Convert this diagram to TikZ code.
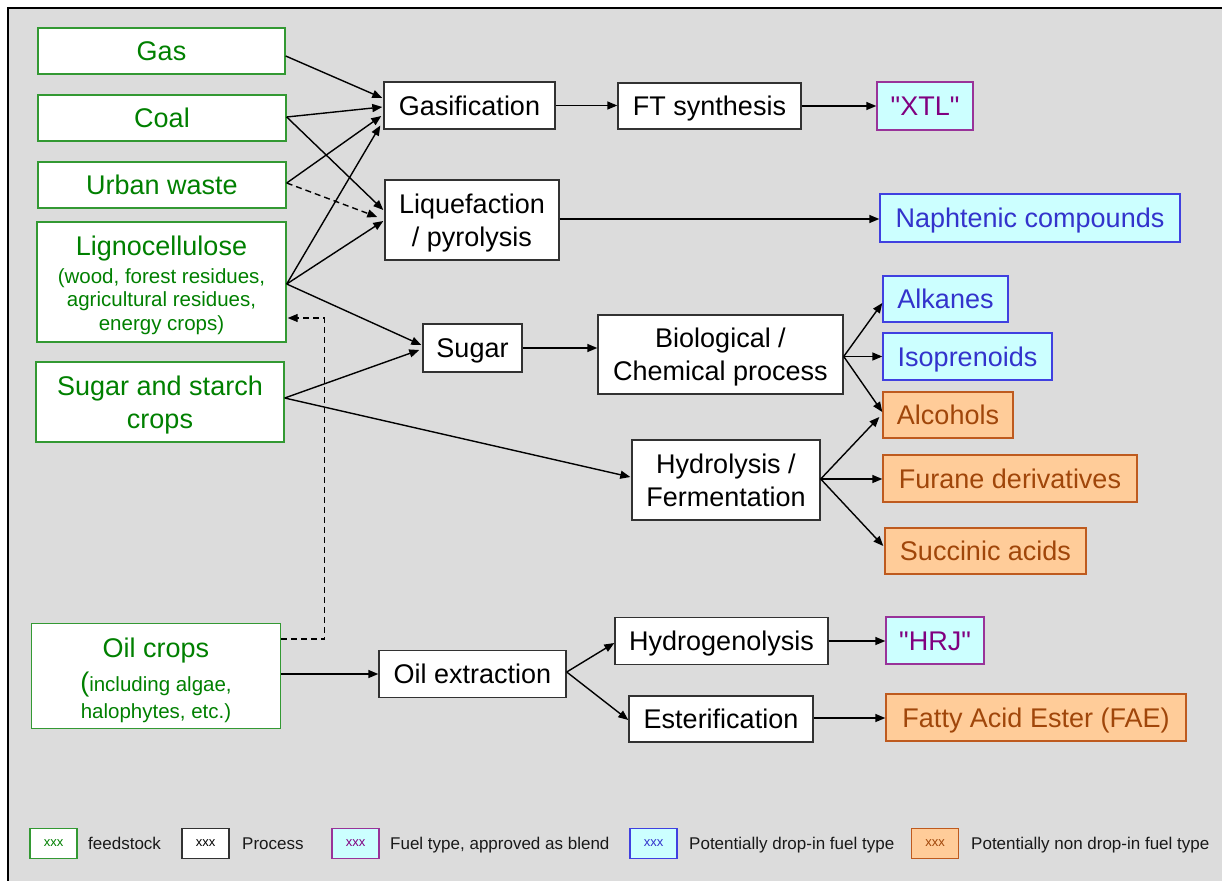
\documentclass[tikz,border=0pt]{standalone}
\usepackage{fontspec}
\setmainfont{Liberation Sans}
\usetikzlibrary{arrows.meta,calc}
\definecolor{bgc}{RGB}{220,220,220}
\definecolor{feedborder}{RGB}{51,153,51}
\definecolor{feedtext}{RGB}{0,128,0}
\definecolor{procborder}{RGB}{50,50,50}
\definecolor{cyanfill}{RGB}{204,255,255}
\definecolor{purpborder}{RGB}{153,51,153}
\definecolor{purptext}{RGB}{128,0,128}
\definecolor{blueborder}{RGB}{64,64,224}
\definecolor{bluetext}{RGB}{51,51,204}
\definecolor{orfill}{RGB}{255,204,153}
\definecolor{orborder}{RGB}{190,90,30}
\definecolor{ortext}{RGB}{160,70,10}
\newcommand\bigfnt{\fontsize{27}{33}\selectfont}
\newcommand\subfnt{\fontsize{20.5}{23.5}\selectfont}
\newcommand\legfnt{\fontsize{17}{20}\selectfont}
\newcommand\xxxfnt{\fontsize{13}{15}\selectfont}
\tikzset{
  boxbase/.style={rectangle, inner sep=0pt, line width=1.4pt, align=center, font=\bigfnt, text height=19.5pt, text depth=0pt},
  twoline/.style={text height=52.5pt},
  feed/.style={boxbase, draw=feedborder, fill=white, text=feedtext},
  proc/.style={boxbase, draw=procborder, fill=white, text=black},
  approved/.style={boxbase, draw=purpborder, fill=cyanfill, text=purptext},
  dropin/.style={boxbase, draw=blueborder, fill=cyanfill, text=bluetext},
  nondrop/.style={boxbase, draw=orborder, fill=orfill, text=ortext},
  feedline/.style={inner sep=0pt, anchor=base, text=feedtext},
  legbox/.style={minimum width=47pt, minimum height=30pt, font=\xxxfnt, text height=6.7pt},
  legtext/.style={anchor=west, inner sep=0pt, font=\legfnt, text=black!90, text height=12.2pt, text depth=0pt},
  arr/.style={line width=1.4pt, -{Triangle[length=10pt,width=8pt]}},
  dasharr/.style={arr, dash pattern=on 6pt off 4pt}
}
\begin{document}
\begin{tikzpicture}[x=1pt,y=-1pt]
\useasboundingbox (0,0) rectangle (1222,881);
\fill[white] (0,0) rectangle (1222,881);
\fill[bgc] (8,8) rectangle (1222,881);
\draw[line width=2pt] (1222,8) -- (8,8) -- (8,881);

% feedstock
\node[feed, minimum width=247pt, minimum height=46pt] (gas) at (161.5,51) {Gas};
\node[feed, minimum width=248pt, minimum height=46pt] (coal) at (162,118) {Coal};
\node[feed, minimum width=248pt, minimum height=46pt] (urban) at (162,185) {Urban waste};
\node[feed, minimum width=249pt, minimum height=120pt] (ligno) at (161.5,282) {};
\node[feedline, font=\bigfnt] (lignoA) at (161.5,255) {Lignocellulose};
\node[feedline, font=\subfnt] (lignoB) at (161.5,283) {(wood, forest residues,};
\node[feedline, font=\subfnt] (lignoC) at (161.5,306.5) {agricultural residues,};
\node[feedline, font=\subfnt] (lignoD) at (161.5,330) {energy crops)};
\node[feed, twoline, minimum width=248pt, minimum height=80pt] (sugarcrops) at (160,402) {Sugar and starch\\crops};
\node[feed, minimum width=249pt, minimum height=105pt] (oilcrops) at (156,676) {};
\node[feedline, font=\bigfnt] (oilA) at (156,657) {Oil crops};
\node[feedline, font=\subfnt] (oilB) at (156,691) {{\bigfnt(}including algae,};
\node[feedline, font=\subfnt] (oilC) at (156,718) {halophytes, etc.)};

% processes
\node[proc, minimum width=171pt, minimum height=47pt] (gasif) at (469.5,105.5) {Gasification};
\node[proc, minimum width=183pt, minimum height=46pt] (ft) at (709.5,106) {FT synthesis};
\node[proc, twoline, minimum width=174pt, minimum height=80pt] (liq) at (472,220) {Liquefaction\\/ pyrolysis};
\node[proc, minimum width=99pt, minimum height=48pt] (sugar) at (472.5,348) {Sugar};
\node[proc, twoline, minimum width=245pt, minimum height=79pt] (bio) at (720.5,354.5) {Biological /\\Chemical process};
\node[proc, twoline, minimum width=188pt, minimum height=80pt] (hydro) at (726,480) {Hydrolysis /\\Fermentation};
\node[proc, minimum width=187pt, minimum height=47pt] (oilex) at (472.5,674) {Oil extraction};
\node[proc, minimum width=213pt, minimum height=47pt] (hydrog) at (721.5,641) {Hydrogenolysis};
\node[proc, minimum width=184pt, minimum height=46pt] (ester) at (721,719) {Esterification};

% fuels
\node[approved, minimum width=96pt, minimum height=48pt] (xtl) at (925,106) {\textquotedbl XTL\textquotedbl};
\node[approved, minimum width=98pt, minimum height=47pt] (hrj) at (935,640.5) {\textquotedbl HRJ\textquotedbl};
\node[dropin, minimum width=300pt, minimum height=48pt] (naph) at (1030,218) {Naphtenic compounds};
\node[dropin, minimum width=125pt, minimum height=46pt] (alk) at (945.5,299) {Alkanes};
\node[dropin, minimum width=169pt, minimum height=47pt] (iso) at (967.5,356.5) {Isoprenoids};
\node[nondrop, minimum width=130pt, minimum height=46pt] (alc) at (948,415) {Alcohols};
\node[nondrop, minimum width=254pt, minimum height=47pt] (fur) at (1010,478.5) {Furane derivatives};
\node[nondrop, minimum width=201pt, minimum height=46pt] (suc) at (985.5,551) {Succinic acids};
\node[nondrop, minimum width=300pt, minimum height=47pt] (fae) at (1036,717.5) {Fatty Acid Ester (FAE)};

% connectors
\draw[arr] ($(gas.east)+(0,5)$) -- ($(gasif.west)+(-1,-7.5)$);
\draw[arr] ($(coal.east)+(0,-1)$) -- ($(gasif.west)+(-1,1.5)$);
\draw[arr] ($(coal.east)+(0,-1)$) -- ($(liq.west)+(-1,-10)$);
\draw[arr] ($(urban.east)+(0,-2)$) -- ($(gasif.west)+(-2,10.5)$);
\draw[dasharr] ($(urban.east)+(0,-2)$) -- ($(liq.west)+(-7,-3)$);
\draw[arr] ($(ligno.east)+(0,2)$) -- ($(gasif.west)+(-3,20)$);
\draw[arr] ($(ligno.east)+(0,2)$) -- ($(liq.west)+(-1,1)$);
\draw[arr] ($(ligno.east)+(0,2)$) -- ($(sugar.west)+(-1,-3)$);
\draw[arr] ($(sugarcrops.east)+(0,-4)$) -- ($(sugar.west)+(-3,2)$);
\draw[arr] ($(sugarcrops.east)+(0,-4)$) -- ($(hydro.west)+(-1,-3)$);
\coordinate (dashcorner) at ($(ligno.east)+(38,36)$);
\draw[dasharr, line width=1.2pt] ($(oilcrops.east)+(0,-37)$) -| (dashcorner) -- ($(ligno.east)+(1,36)$);
\draw[arr] ($(oilcrops.east)+(0,-2)$) -- (oilex.west);
\draw[arr] (gasif.east) -- (gasif.east -| ft.west);
\draw[arr] (ft.east) -- (ft.east -| xtl.west);
\draw[arr] ($(liq.east)+(0,-1)$) -- ($(liq.east -| naph.west)+(0,-1)$);
\draw[arr] (sugar.east) -- (sugar.east -| bio.west);
\draw[arr] ($(bio.east)+(0,2)$) -- ($(alk.west)+(0,4)$);
\draw[arr] ($(bio.east)+(0,2)$) -- (iso.west);
\draw[arr] ($(bio.east)+(0,2)$) -- ($(alc.west)+(0,-3)$);
\draw[arr] ($(hydro.east)+(0,-1)$) -- ($(alc.west)+(-3,2)$);
\draw[arr] ($(hydro.east)+(0,-1)$) -- ($(hydro.east -| fur.west)+(0,-1)$);
\draw[arr] ($(hydro.east)+(0,-1)$) -- ($(suc.west)+(-1,-5)$);
\draw[arr] ($(oilex.east)+(0,-2)$) -- ($(hydrog.west)+(0,2)$);
\draw[arr] ($(oilex.east)+(0,-2)$) -- ($(ester.west)+(0,1)$);
\draw[arr] (hydrog.east) -- (hydrog.east -| hrj.west);
\draw[arr] ($(ester.east)+(0,-1)$) -- ($(ester.east -| fae.west)+(0,-1)$);

% legend
\node[feed, legbox] (lg1) at (53.5,843.5) {xxx};
\node[legtext] (lt1) at (88,843.5) {feedstock};
\node[proc, legbox] (lg2) at (205.5,843.5) {xxx};
\node[legtext] (lt2) at (242,843.5) {Process};
\node[approved, legbox] (lg3) at (355.5,843.5) {xxx};
\node[legtext] (lt3) at (390,843.5) {Fuel type, approved as blend};
\node[dropin, legbox] (lg4) at (653.5,843.5) {xxx};
\node[legtext] (lt4) at (689,843.5) {Potentially drop-in fuel type};
\node[nondrop, legbox] (lg5) at (935,843.5) {xxx};
\node[legtext] (lt5) at (971,843.5) {Potentially non drop-in fuel type};
\end{tikzpicture}
\end{document}
